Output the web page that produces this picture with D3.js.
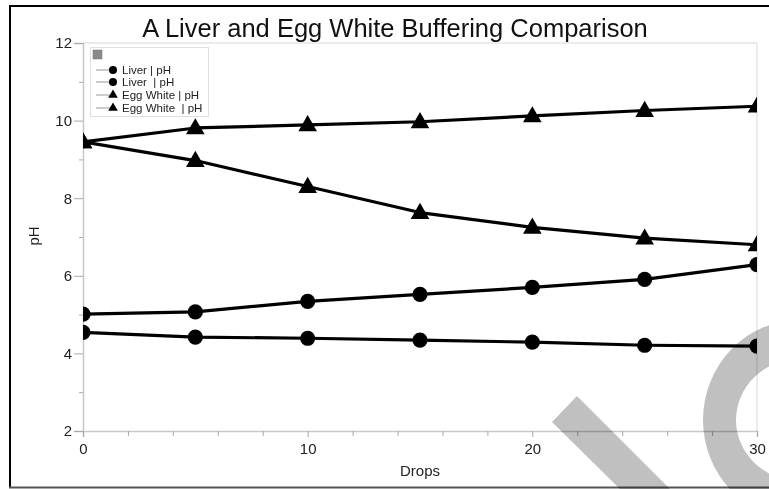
<!DOCTYPE html>
<html>
<head>
<meta charset="utf-8">
<script src="https://cdn.jsdelivr.net/npm/d3@7"></script>
<style>
  html, body { margin: 0; padding: 0; background: #fff; }
  svg { display: block; font-family: "Liberation Sans", Arial, sans-serif; }
  .wm { mix-blend-mode: multiply; }
</style>
</head>
<body>
<svg id="chart" width="769" height="489"></svg>
<script>
// ---- data ----
const drops = [0, 5, 10, 15, 20, 25, 30];
const liverA = [4.54, 4.42, 4.39, 4.34, 4.29, 4.21, 4.19];
const liverB = [5.01, 5.07, 5.34, 5.52, 5.70, 5.91, 6.29];
const eggA = [9.45, 9.81, 9.89, 9.97, 10.12, 10.26, 10.37];
const eggB = [9.45, 8.97, 8.30, 7.63, 7.25, 6.97, 6.80];
const seriesNames = ["Liver | pH", "Liver  | pH", "Egg White | pH", "Egg White  | pH"];
const seriesValues = [liverA, liverB, eggA, eggB];
const seriesShapes = ["circle", "circle", "triangle", "triangle"];
const yMajorTicks = [2, 4, 6, 8, 10, 12];
const yMinorTicks = [3, 5, 7, 9, 11];
const xMajorTicks = [0, 10, 20, 30];
const xMinorTicks = [2, 4, 6, 8, 12, 14, 16, 18, 22, 24, 26, 28];
const title = "A Liver and Egg White Buffering Comparison";
const xTitle = "Drops";
const yTitle = "pH";

const svg = d3.select("#chart");
const L = 83, R = 757, T = 43, B = 431;
const x = d3.scaleLinear().domain([0, 30]).range([L, R]);
const y = d3.scaleLinear().domain([2, 12]).range([B, T]);

// outer frame
svg.append("line").attr("x1", 10).attr("x2", 10).attr("y1", 5).attr("y2", 488).attr("stroke", "#000").attr("stroke-width", 2);
svg.append("line").attr("x1", 9).attr("x2", 769).attr("y1", 6).attr("y2", 6).attr("stroke", "#000").attr("stroke-width", 2);
svg.append("line").attr("x1", 9).attr("x2", 769).attr("y1", 487.5).attr("y2", 487.5).attr("stroke", "#555").attr("stroke-width", 2);

// title
svg.append("text").attr("x", 395).attr("y", 37).attr("text-anchor", "middle")
  .attr("font-size", 25.5).attr("fill", "#111").text(title);

// plot frame (top/right)
svg.append("line").attr("x1", L).attr("x2", R).attr("y1", T).attr("y2", T).attr("stroke", "#d8d8d8");
svg.append("line").attr("x1", R).attr("x2", R).attr("y1", T).attr("y2", B).attr("stroke", "#d8d8d8");

// axes
const yAxis = d3.axisLeft(y).tickValues(yMajorTicks).tickSize(9).tickPadding(2).tickFormat(d3.format("d"));
const gy = svg.append("g").attr("transform", `translate(${L},0)`).call(yAxis);
const yAxisMinor = d3.axisLeft(y).tickValues(yMinorTicks).tickSize(4).tickFormat("");
const gym = svg.append("g").attr("transform", `translate(${L},0)`).call(yAxisMinor);
const xAxis = d3.axisBottom(x).tickValues(xMajorTicks).tickSize(6).tickPadding(6).tickFormat(d3.format("d"));
const gx = svg.append("g").attr("transform", `translate(0,${B})`).call(xAxis);
const xAxisMinor = d3.axisBottom(x).tickValues(xMinorTicks).tickSize(5).tickFormat("");
const gxm = svg.append("g").attr("transform", `translate(0,${B})`).call(xAxisMinor);
[gy, gym, gx, gxm].forEach(g => {
  g.select(".domain").attr("stroke", "#c8c8c8").attr("stroke-width", 1.5);
  g.selectAll(".tick line").attr("stroke", "#a8a8a8");
  g.selectAll("text").attr("font-size", 15).attr("fill", "#222")
    .attr("font-family", "'Liberation Sans', Arial, sans-serif");
});
gym.select(".domain").remove();
gxm.select(".domain").remove();

// axis titles
svg.append("text").attr("x", 420).attr("y", 476).attr("text-anchor", "middle")
  .attr("font-size", 15).attr("fill", "#222").text(xTitle);
svg.append("text").attr("transform", "translate(39,236) rotate(-90)").attr("text-anchor", "middle")
  .attr("font-size", 15).attr("fill", "#222").text(yTitle);

// clip
svg.append("clipPath").attr("id", "plotclip").append("rect")
  .attr("x", L).attr("y", T).attr("width", R - L).attr("height", B - T);
const plot = svg.append("g").attr("clip-path", "url(#plotclip)");

const line = d3.line().x((d, i) => x(drops[i])).y(d => y(d));
const circleSym = d3.symbol().type(d3.symbolCircle).size(Math.PI * 7.6 * 7.6);
const triSym = d3.symbol().type(d3.symbolTriangle).size(150);

seriesValues.forEach((vals, s) => {
  plot.append("path").datum(vals).attr("d", line)
    .attr("fill", "none").attr("stroke", "#000").attr("stroke-width", 3.2)
    .attr("stroke-linejoin", "round");
});
seriesValues.forEach((vals, s) => {
  plot.selectAll(null).data(vals).enter().append("path")
    .attr("d", seriesShapes[s] === "circle" ? circleSym : triSym)
    .attr("transform", (d, i) => `translate(${x(drops[i])},${y(d) + (seriesShapes[s] === "triangle" ? 1 : 0)})`)
    .attr("fill", "#000");
});

// legend
const lg = svg.append("g");
lg.append("rect").attr("x", 90.5).attr("y", 47.5).attr("width", 118).attr("height", 69)
  .attr("fill", "#fff").attr("stroke", "#e0e0e0");
lg.append("rect").attr("x", 93).attr("y", 50).attr("width", 9).attr("height", 9)
  .attr("fill", "#8a8a8a").attr("stroke", "#777").attr("stroke-width", 0.5);
const legendRowY = [70, 82, 95, 108];
const lcirc = d3.symbol().type(d3.symbolCircle).size(Math.PI * 4 * 4);
const ltri = d3.symbol().type(d3.symbolTriangle).size(40);
seriesNames.forEach((name, s) => {
  const yy = legendRowY[s];
  lg.append("line").attr("x1", 96).attr("x2", 113).attr("y1", yy).attr("y2", yy)
    .attr("stroke", "#999").attr("stroke-width", 1);
  lg.append("path").attr("d", seriesShapes[s] === "circle" ? lcirc : ltri)
    .attr("transform", `translate(113,${yy})`).attr("fill", "#000");
  lg.append("text").attr("x", 122).attr("y", yy + 4).attr("font-size", 11.5)
    .attr("fill", "#222").style("white-space", "pre").text(name);
});

// watermark (part of the reference image)
svg.append("path").attr("class", "wm")
  .attr("d", "M552,422 L577,396 L672,491 L622,491 Z")
  .attr("fill", "#c0c0c0");
svg.append("path").attr("class", "wm")
  .attr("fill-rule", "evenodd")
  .attr("d", "M703,420 A97,100 0 1,0 897,420 A97,100 0 1,0 703,420 Z M736,420 A64,61 0 1,0 864,420 A64,61 0 1,0 736,420 Z")
  .attr("fill", "#c0c0c0");
</script>
</body>
</html>
